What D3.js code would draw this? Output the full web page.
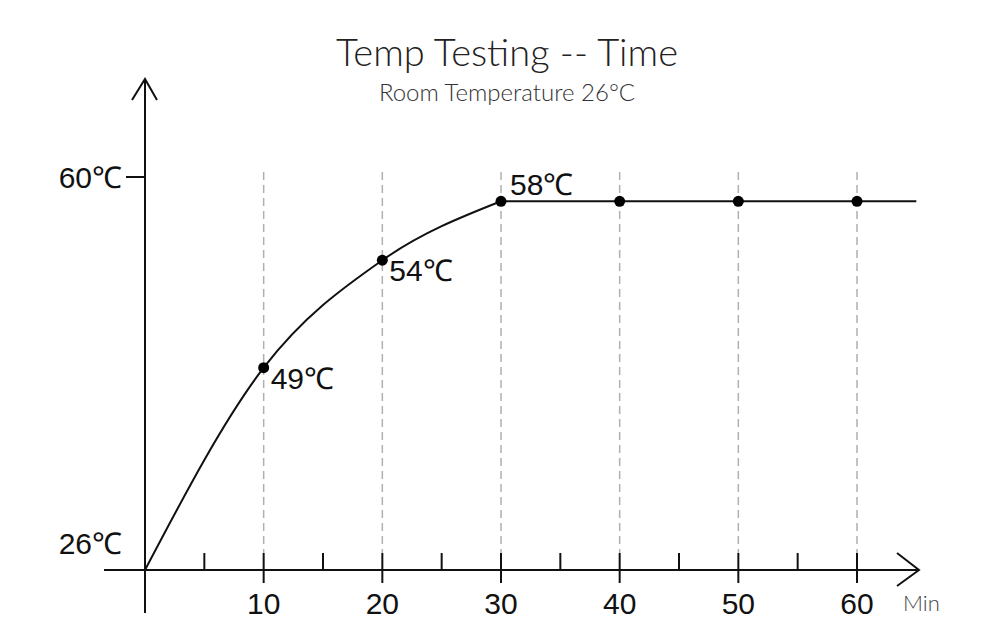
<!DOCTYPE html>
<html>
<head>
<meta charset="utf-8">
<script src="https://cdn.jsdelivr.net/npm/d3@7"></script>
<style>
  body { margin: 0; background: #fff; }
  svg { display: block; }
  .lbl { font-family: "Liberation Sans", Arial, sans-serif; fill: #111; }
  .thin { font-family: "Lato", "Roboto", "Liberation Sans", sans-serif; font-weight: 300; }
</style>
</head>
<body>
<svg id="chart" width="1000" height="635"></svg>
<script>
// time (min) and temperature as placed on the picture
var minutes = [0, 10, 20, 30, 40, 50, 60, 65];
var temps = [26, 43.5, 52.8, 57.9, 57.9, 57.9, 57.9, 57.9];
var pointLabels = ["", "49℃", "54℃", "58℃", "", "", "", ""];
var majorTicks = [10, 20, 30, 40, 50, 60];
var minorTicks = [5, 15, 25, 35, 45, 55];
var yTicks = [26, 60];

var svg = d3.select('svg#chart');

var x = d3.scaleLinear().domain([0, 60]).range([145, 857]);
var y = d3.scaleLinear().domain([26, 60]).range([570, 177]);

// title
svg.append('text').attr('class', 'thin')
    .attr('x', 507).attr('y', 66)
    .attr('text-anchor', 'middle')
    .attr('font-size', 38).attr('fill', '#222')
    .text('Temp Testing -- Time');
svg.append('text').attr('class', 'thin')
    .attr('x', 507).attr('y', 101)
    .attr('text-anchor', 'middle')
    .attr('font-size', 24).attr('fill', '#333')
    .text('Room Temperature 26°C');

// dashed guides
svg.selectAll('line.grid').data(majorTicks).enter()
    .append('line').attr('class', 'grid')
    .attr('x1', function(d) { return x(d); })
    .attr('x2', function(d) { return x(d); })
    .attr('y1', 172).attr('y2', 553)
    .attr('stroke', '#b0b0b0')
    .attr('stroke-width', 1.5)
    .attr('stroke-dasharray', '8,5');

// axes
var axisG = svg.append('g').attr('stroke', '#111').attr('stroke-width', 2).attr('fill', 'none');
axisG.append('line').attr('x1', 104).attr('x2', 919).attr('y1', y(26)).attr('y2', y(26));
axisG.append('path').attr('d', 'M897,553L919,570L897,586');
axisG.append('line').attr('x1', x(0)).attr('x2', x(0)).attr('y1', 613).attr('y2', 79);
axisG.append('path').attr('d', 'M132,100L145,79L157,100');
// 60 tick on y
axisG.append('line').attr('x1', 126).attr('x2', x(0)).attr('y1', y(60)).attr('y2', y(60));

axisG.selectAll('line.major').data(majorTicks).enter()
    .append('line').attr('class', 'major')
    .attr('x1', function(d) { return x(d); })
    .attr('x2', function(d) { return x(d); })
    .attr('y1', 553).attr('y2', 583);
axisG.selectAll('line.minor').data(minorTicks).enter()
    .append('line').attr('class', 'minor')
    .attr('x1', function(d) { return x(d); })
    .attr('x2', function(d) { return x(d); })
    .attr('y1', 553).attr('y2', 570);

// x tick labels
svg.selectAll('text.xt').data(majorTicks).enter()
    .append('text').attr('class', 'lbl xt')
    .attr('x', function(d) { return x(d); })
    .attr('y', 614)
    .attr('text-anchor', 'middle')
    .attr('font-size', 30)
    .text(function(d) { return d; });
svg.append('text').attr('class', 'thin')
    .attr('x', 903).attr('y', 611)
    .attr('font-size', 22).attr('fill', '#444')
    .text('Min');

// y labels
svg.selectAll('text.yt').data(yTicks).enter()
    .append('text').attr('class', 'lbl yt')
    .attr('x', 122)
    .attr('y', function(d) { return d == 60 ? y(d) + 11 : 554; })
    .attr('text-anchor', 'end')
    .attr('font-size', 30)
    .text(function(d) { return d + '℃'; });

// curve: rising part smooth, then flat
var data = minutes.map(function(m, i) { return { m: m, t: temps[i], label: pointLabels[i] }; });
var line = d3.line()
    .x(function(d) { return x(d.m); })
    .y(function(d) { return y(d.t); });
svg.append('path').datum(data.filter(function(d) { return d.m <= 30; }))
    .attr('d', line.curve(d3.curveMonotoneX))
    .attr('fill', 'none')
    .attr('stroke', '#111')
    .attr('stroke-width', 2);
svg.append('path').datum(data.filter(function(d) { return d.m >= 30; }))
    .attr('d', line.curve(d3.curveLinear))
    .attr('fill', 'none')
    .attr('stroke', '#111')
    .attr('stroke-width', 2);

var pts = data.filter(function(d) { return d.m > 0 && d.m <= 60; });
svg.selectAll('circle.pt').data(pts).enter()
    .append('circle').attr('class', 'pt')
    .attr('cx', function(d) { return x(d.m); })
    .attr('cy', function(d) { return y(d.t); })
    .attr('r', 5.5)
    .attr('fill', '#000');

svg.selectAll('text.pl').data(pts.filter(function(d) { return d.label; })).enter()
    .append('text').attr('class', 'lbl pl')
    .attr('x', function(d) { return x(d.m) + (d.m == 30 ? 9 : 7); })
    .attr('y', function(d) { return d.m == 30 ? y(d.t) - 6 : y(d.t) + 21; })
    .attr('font-size', 30)
    .text(function(d) { return d.label; });
</script>
</body>
</html>
